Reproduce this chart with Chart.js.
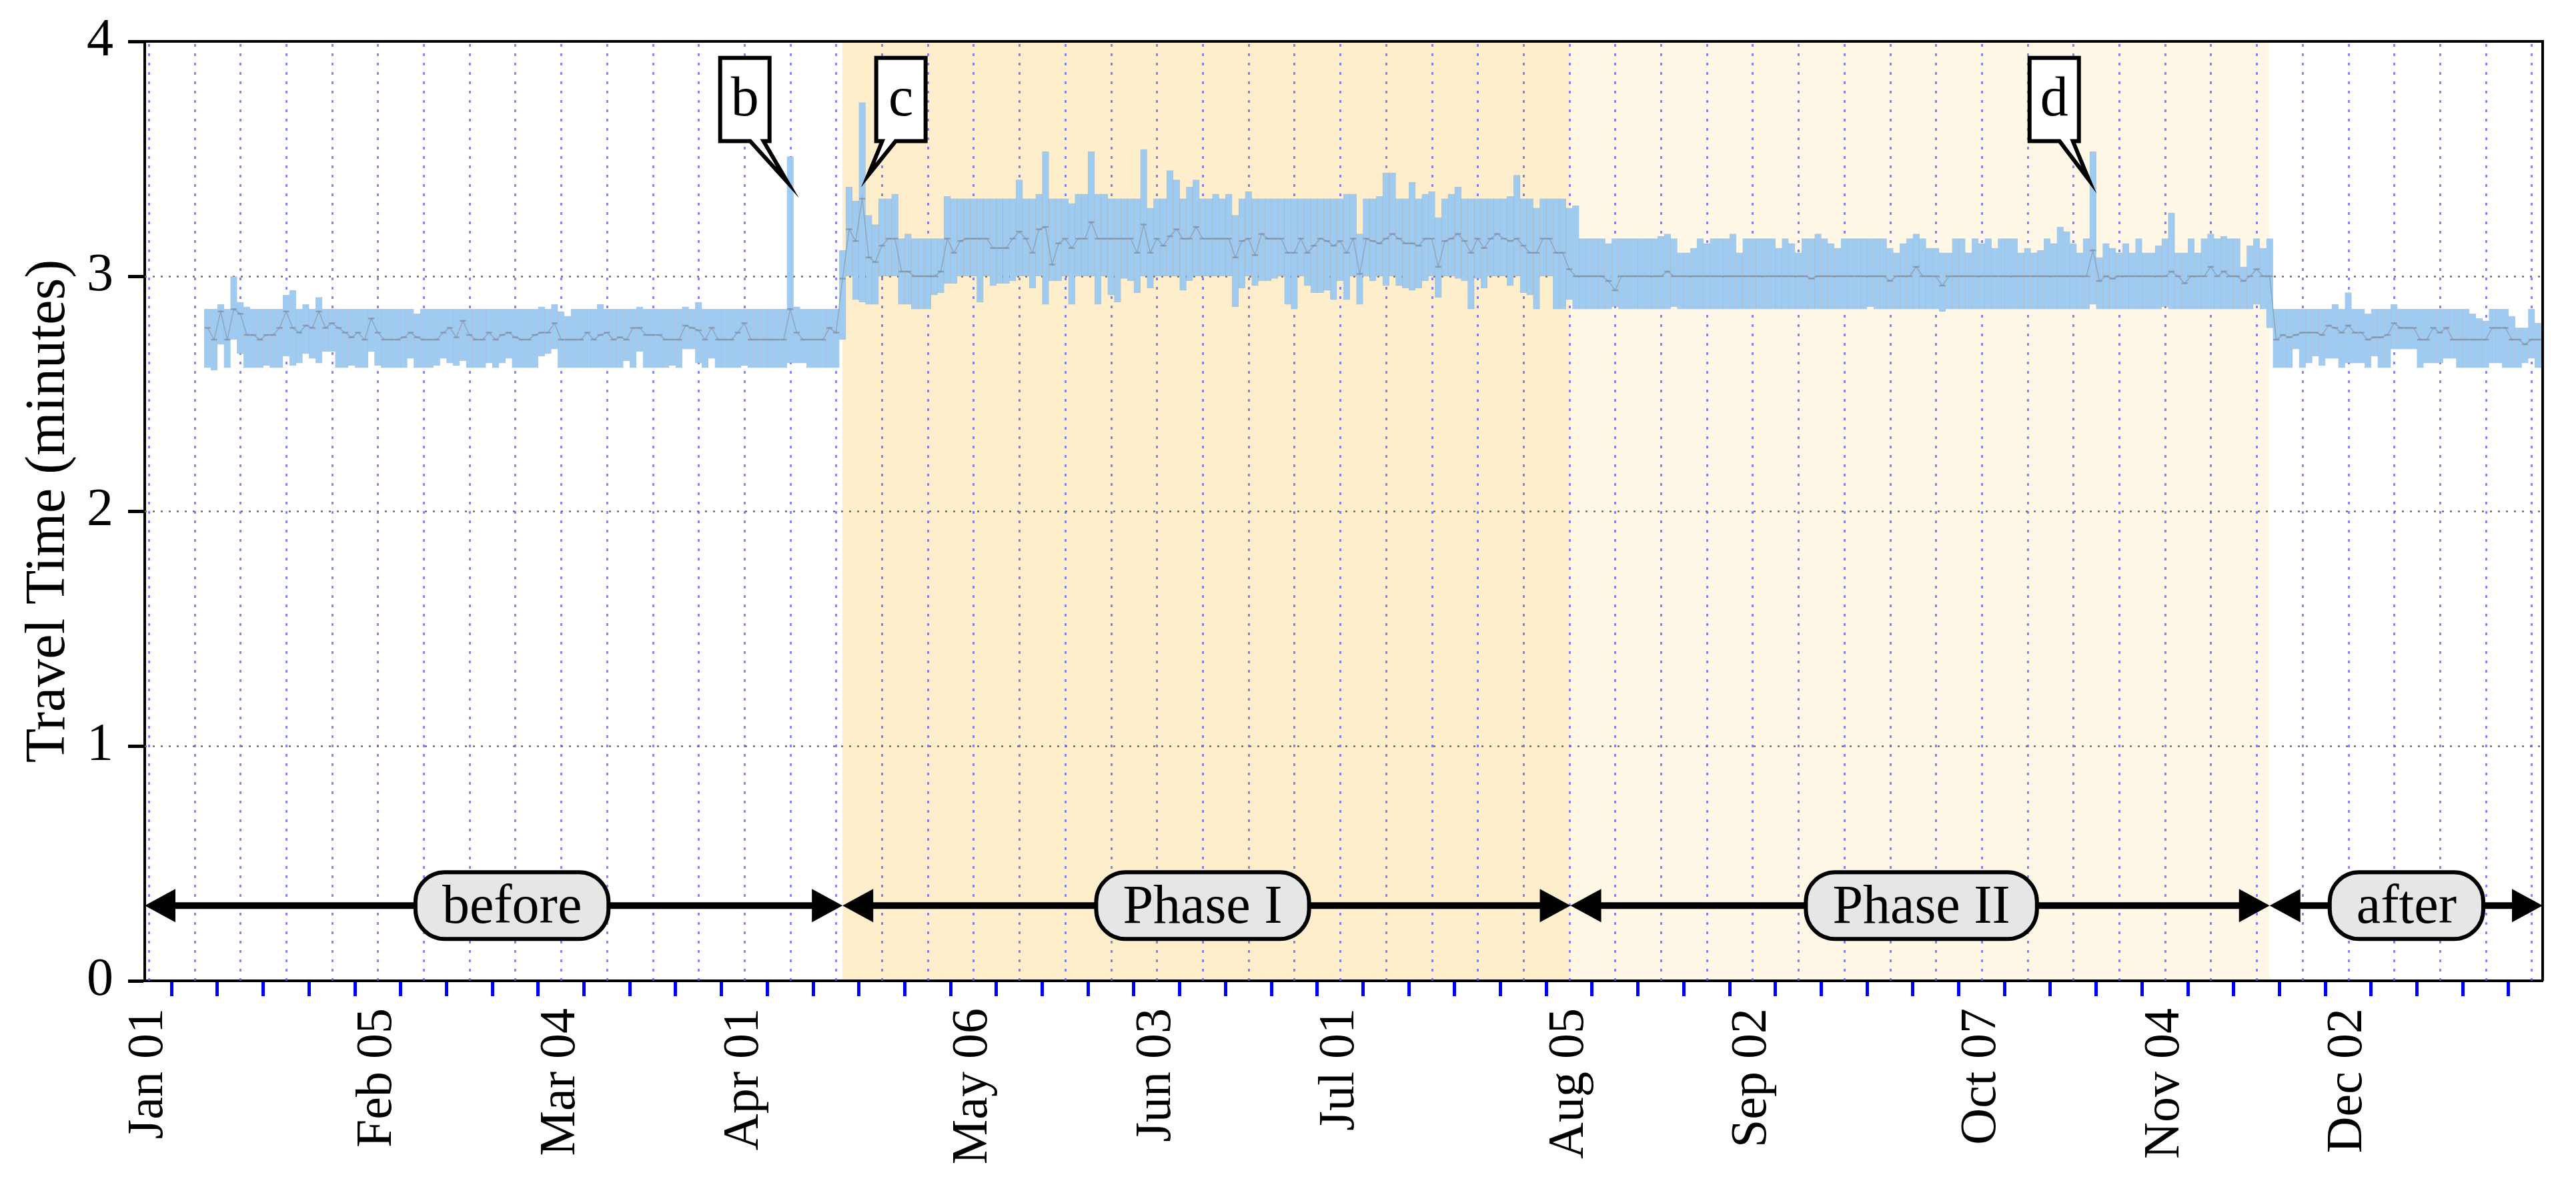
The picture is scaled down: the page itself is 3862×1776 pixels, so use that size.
<!DOCTYPE html>
<html>
<head>
<meta charset="utf-8">
<title>Travel Time</title>
<script src="https://cdn.jsdelivr.net/npm/chart.js@4.4.1/dist/chart.umd.min.js"></script>
<style>
  html, body { margin: 0; padding: 0; background: #fff; }
  #wrap { width: 3862px; height: 1776px; position: relative; }
</style>
</head>
<body>
<div id="wrap"><canvas id="tt"></canvas></div>
<script>
// day numbers count from Jan 01 (= 0), one bar per day
const beforeStart = 9;
const beforeHigh = [
  2.86,2.86,2.88,2.86,3.00,2.89,2.87,2.86,2.86,2.86,
  2.86,2.86,2.92,2.94,2.86,2.88,2.86,2.91,2.86,2.86,
  2.86,2.86,2.86,2.86,2.86,2.86,2.86,2.86,2.86,2.86,
  2.86,2.86,2.84,2.86,2.86,2.86,2.86,2.86,2.86,2.86,
  2.86,2.86,2.86,2.86,2.86,2.86,2.86,2.86,2.86,2.86,
  2.86,2.87,2.86,2.88,2.85,2.83,2.86,2.86,2.86,2.86,
  2.88,2.86,2.86,2.86,2.86,2.86,2.87,2.86,2.86,2.86,
  2.86,2.86,2.86,2.87,2.86,2.89,2.86,2.86,2.86,2.86,
  2.86,2.86,2.86,2.86,2.86,2.86,2.86,2.86,2.86,3.51,
  2.87,2.86,2.86,2.86,2.86,2.86,2.86
];
const beforeMedian = [
  2.78,2.73,2.85,2.73,2.86,2.84,2.75,2.75,2.73,2.75,
  2.75,2.78,2.85,2.78,2.76,2.79,2.78,2.85,2.78,2.80,
  2.78,2.76,2.74,2.76,2.73,2.82,2.76,2.73,2.73,2.73,
  2.74,2.76,2.74,2.73,2.73,2.73,2.76,2.78,2.74,2.81,
  2.75,2.73,2.73,2.76,2.73,2.75,2.76,2.74,2.73,2.73,
  2.75,2.76,2.76,2.80,2.73,2.73,2.73,2.73,2.76,2.73,
  2.75,2.76,2.73,2.74,2.73,2.78,2.78,2.75,2.75,2.75,
  2.73,2.73,2.73,2.79,2.78,2.77,2.73,2.78,2.73,2.73,
  2.73,2.76,2.80,2.73,2.73,2.73,2.73,2.73,2.73,2.86,
  2.76,2.73,2.73,2.73,2.73,2.78,2.76
];
const beforeLow = [
  2.61,2.60,2.71,2.61,2.73,2.67,2.61,2.61,2.61,2.62,
  2.61,2.61,2.66,2.62,2.63,2.67,2.65,2.63,2.68,2.68,
  2.61,2.61,2.62,2.61,2.61,2.68,2.62,2.61,2.61,2.61,
  2.61,2.65,2.61,2.61,2.61,2.62,2.65,2.63,2.62,2.64,
  2.61,2.61,2.61,2.63,2.61,2.63,2.65,2.61,2.61,2.61,
  2.61,2.66,2.67,2.69,2.61,2.61,2.61,2.61,2.61,2.61,
  2.61,2.61,2.61,2.61,2.64,2.61,2.68,2.61,2.61,2.61,
  2.61,2.62,2.61,2.69,2.69,2.63,2.61,2.65,2.61,2.61,
  2.61,2.61,2.62,2.61,2.61,2.61,2.61,2.61,2.61,2.63,
  2.63,2.63,2.61,2.61,2.61,2.61,2.61
];

const phase1Start = 106;
const phase1High = [
  3.11,3.38,3.32,3.74,3.26,3.22,3.33,3.33,3.35,3.16,
  3.18,3.16,3.16,3.16,3.16,3.16,3.34,3.33,3.33,3.33,
  3.33,3.33,3.33,3.33,3.33,3.33,3.33,3.41,3.33,3.33,
  3.35,3.53,3.33,3.33,3.33,3.31,3.35,3.35,3.53,3.35,
  3.35,3.33,3.33,3.33,3.33,3.33,3.54,3.29,3.33,3.33,
  3.45,3.41,3.33,3.38,3.41,3.33,3.33,3.35,3.33,3.35,
  3.26,3.33,3.36,3.33,3.33,3.33,3.33,3.33,3.33,3.33,
  3.33,3.33,3.33,3.33,3.33,3.33,3.33,3.35,3.35,3.18,
  3.33,3.33,3.34,3.44,3.44,3.33,3.33,3.40,3.33,3.35,
  3.36,3.25,3.33,3.35,3.38,3.33,3.33,3.33,3.33,3.33,
  3.33,3.33,3.34,3.43,3.33,3.33,3.29,3.33,3.33,3.33,
  3.33,3.29,3.30
];
const phase1Median = [
  2.99,3.20,3.15,3.33,3.08,3.06,3.13,3.16,3.16,3.02,
  3.02,3.00,3.00,3.00,3.00,3.02,3.16,3.10,3.15,3.16,
  3.16,3.16,3.16,3.12,3.12,3.12,3.16,3.19,3.16,3.10,
  3.20,3.21,3.05,3.14,3.16,3.12,3.16,3.16,3.23,3.16,
  3.16,3.16,3.16,3.16,3.16,3.10,3.22,3.10,3.16,3.13,
  3.17,3.20,3.16,3.16,3.21,3.16,3.16,3.16,3.16,3.16,
  3.08,3.15,3.16,3.09,3.18,3.16,3.16,3.16,3.10,3.10,
  3.16,3.10,3.13,3.16,3.15,3.13,3.15,3.10,3.16,3.01,
  3.16,3.15,3.14,3.16,3.18,3.16,3.14,3.14,3.13,3.16,
  3.16,3.04,3.15,3.16,3.18,3.15,3.10,3.16,3.12,3.16,
  3.18,3.16,3.15,3.16,3.13,3.10,3.10,3.16,3.16,3.10,
  3.10,3.03,3.00
];
const phase1Low = [
  2.73,3.00,2.90,2.89,2.88,2.88,3.00,3.00,3.00,2.88,
  2.88,2.86,2.86,2.86,2.92,2.93,2.97,2.97,3.00,3.00,
  3.00,2.89,3.00,2.96,2.97,2.97,2.98,3.00,3.00,2.95,
  3.00,2.88,2.98,2.98,3.00,2.88,3.00,3.00,3.00,2.88,
  3.00,2.92,2.89,2.99,2.98,2.93,3.00,2.95,3.00,3.00,
  3.00,3.00,2.94,2.98,3.00,3.00,3.00,3.00,3.00,3.00,
  2.87,2.95,3.00,2.96,2.98,2.98,2.99,3.00,2.88,2.86,
  3.00,2.96,2.93,2.93,2.94,2.90,2.98,2.90,3.00,2.88,
  3.00,2.98,3.00,2.96,3.00,2.96,2.95,2.94,2.95,2.98,
  3.00,2.91,3.00,3.00,2.99,2.98,2.86,2.99,2.95,3.00,
  3.00,3.00,2.96,3.00,2.93,2.92,2.86,3.00,3.00,2.86,
  2.86,2.90,2.86
];

const phase2Start = 219;
const phase2High = [
  3.16,3.16,3.16,3.16,3.14,3.16,3.16,3.16,3.16,3.16,
  3.16,3.16,3.17,3.18,3.16,3.10,3.10,3.12,3.16,3.14,
  3.16,3.16,3.16,3.18,3.10,3.16,3.16,3.16,3.16,3.16,
  3.12,3.16,3.14,3.10,3.16,3.16,3.18,3.16,3.14,3.12,
  3.16,3.16,3.16,3.16,3.16,3.16,3.16,3.12,3.10,3.14,
  3.16,3.18,3.16,3.12,3.12,3.10,3.10,3.16,3.16,3.10,
  3.16,3.14,3.16,3.12,3.16,3.16,3.16,3.10,3.12,3.10,
  3.11,3.16,3.14,3.21,3.19,3.14,3.10,3.16,3.53,3.08,
  3.14,3.12,3.10,3.14,3.10,3.16,3.10,3.10,3.13,3.16,
  3.27,3.10,3.10,3.16,3.10,3.16,3.18,3.16,3.17,3.16,
  3.16,3.04,3.13,3.16,3.12,3.16
];
const phase2Median = [
  3.00,3.00,3.00,3.00,2.98,2.94,3.00,3.00,3.00,3.00,
  3.00,3.00,3.00,3.02,3.00,3.00,3.00,3.00,3.00,3.00,
  3.00,3.00,3.00,3.00,3.00,3.00,3.00,3.00,3.00,3.00,
  3.00,3.00,3.00,3.00,3.00,2.99,3.00,3.00,3.00,3.00,
  3.00,3.00,3.00,3.00,3.00,3.00,3.00,2.98,3.00,3.00,
  3.00,3.04,3.00,3.00,3.00,2.96,3.00,3.00,3.00,3.00,
  3.00,3.00,3.00,3.00,3.00,3.00,3.00,3.00,3.00,3.00,
  3.00,3.00,3.00,3.00,3.00,3.00,3.00,3.00,3.11,2.98,
  3.00,2.99,3.00,3.00,3.00,3.00,3.00,3.00,3.00,3.00,
  3.02,3.00,2.97,3.00,3.00,3.00,3.04,3.00,3.02,3.00,
  3.00,2.98,3.00,3.03,3.00,3.00
];
const phase2Low = [
  2.86,2.86,2.86,2.86,2.86,2.87,2.86,2.86,2.86,2.86,
  2.86,2.86,2.86,2.86,2.87,2.86,2.86,2.86,2.86,2.86,
  2.86,2.86,2.86,2.86,2.86,2.86,2.86,2.86,2.86,2.86,
  2.86,2.86,2.86,2.86,2.86,2.86,2.86,2.86,2.86,2.86,
  2.86,2.86,2.86,2.86,2.87,2.86,2.86,2.86,2.86,2.86,
  2.86,2.86,2.86,2.86,2.86,2.85,2.86,2.86,2.86,2.86,
  2.86,2.86,2.86,2.86,2.86,2.86,2.86,2.86,2.86,2.86,
  2.86,2.86,2.86,2.86,2.86,2.86,2.86,2.86,2.88,2.86,
  2.86,2.86,2.86,2.86,2.86,2.86,2.86,2.86,2.86,2.87,
  2.86,2.86,2.86,2.86,2.86,2.86,2.86,2.86,2.86,2.86,
  2.86,2.86,2.86,2.88,2.86,2.78
];

const afterStart = 325;
const afterHigh = [
  2.86,2.86,2.86,2.86,2.86,2.86,2.86,2.86,2.86,2.88,
  2.86,2.93,2.86,2.86,2.84,2.86,2.86,2.86,2.88,2.86,
  2.86,2.86,2.86,2.86,2.86,2.86,2.86,2.86,2.86,2.86,
  2.84,2.82,2.81,2.86,2.86,2.86,2.83,2.78,2.78,2.86,
  2.80
];
const afterMedian = [
  2.73,2.75,2.74,2.75,2.76,2.76,2.76,2.75,2.79,2.78,
  2.76,2.79,2.76,2.76,2.73,2.74,2.74,2.75,2.80,2.78,
  2.78,2.78,2.73,2.73,2.78,2.76,2.78,2.73,2.73,2.73,
  2.73,2.73,2.73,2.78,2.78,2.78,2.73,2.73,2.71,2.73,
  2.73
];
const afterLow = [
  2.61,2.61,2.61,2.69,2.61,2.63,2.66,2.62,2.65,2.65,
  2.61,2.63,2.63,2.63,2.61,2.66,2.61,2.61,2.69,2.69,
  2.69,2.69,2.61,2.63,2.63,2.63,2.65,2.65,2.61,2.61,
  2.61,2.61,2.61,2.63,2.63,2.61,2.61,2.61,2.63,2.65,
  2.61
];

// axis labels (first Monday of each month) and phase layout
const monthTickDays = [0, 35, 63, 91, 126, 154, 182, 217, 245, 280, 308, 336];
const monthTickLabels = ['Jan 01','Feb 05','Mar 04','Apr 01','May 06','Jun 03','Jul 01','Aug 05','Sep 02','Oct 07','Nov 04','Dec 02'];
const phaseNames = ['before', 'Phase I', 'Phase II', 'after'];
const phaseBounds = [106, 217.2, 324];
const phaseLabelDays = [55.5, 161, 270.8, 344.9];
const phaseColors = [null, '#feeecc', '#fff8e7', null];
const callouts = [
  { text: 'b', day: 98, tip: 3.40, tipDx: -4, boxDx: -68 },
  { text: 'c', day: 109, tip: 3.43, tipDx: 9, boxDx: 58 },
  { text: 'd', day: 297, tip: 3.41, tipDx: -6, boxDx: -58 }
];

const X_MIN = -0.6, X_MAX = 365.7;
const SERIF = '"Liberation Serif", "Times New Roman", serif';

const segments = [
  [beforeStart, beforeLow, beforeHigh, beforeMedian],
  [phase1Start, phase1Low, phase1High, phase1Median],
  [phase2Start, phase2Low, phase2High, phase2Median],
  [afterStart, afterLow, afterHigh, afterMedian]
];
const rangeData = [];
const medianData = [];
segments.forEach(([start, lo, hi, med]) => {
  lo.forEach((v, i) => {
    rangeData.push({ x: start + i, y: [v, hi[i]] });
    medianData.push({ x: start + i, y: med[i] });
  });
});

const weekTicks = [];
for (let d = 0; d <= 364; d += 7) weekTicks.push(d);

function roundBox(ctx, x, y, w, h, r) {
  ctx.beginPath();
  ctx.moveTo(x + r, y);
  ctx.lineTo(x + w - r, y);
  ctx.arcTo(x + w, y, x + w, y + r, r);
  ctx.lineTo(x + w, y + h - r);
  ctx.arcTo(x + w, y + h, x + w - r, y + h, r);
  ctx.lineTo(x + r, y + h);
  ctx.arcTo(x, y + h, x, y + h - r, r);
  ctx.lineTo(x, y + r);
  ctx.arcTo(x, y, x + r, y, r);
  ctx.closePath();
}

function arrowHead(ctx, tipX, y, dir) {
  ctx.beginPath();
  ctx.moveTo(tipX, y);
  ctx.lineTo(tipX + dir * 46, y - 25);
  ctx.lineTo(tipX + dir * 46, y + 25);
  ctx.closePath();
  ctx.fill();
}

const decor = {
  id: 'decor',
  beforeDraw(chart) {
    const { ctx, chartArea: a, scales: { x } } = chart;
    ctx.save();
    ctx.fillStyle = '#fff';
    ctx.fillRect(0, 0, chart.width, chart.height);
    const edges = [X_MIN].concat(phaseBounds, [X_MAX]);
    phaseColors.forEach((c, i) => {
      if (!c) return;
      const x0 = x.getPixelForValue(edges[i]);
      const x1 = x.getPixelForValue(edges[i + 1]);
      ctx.fillStyle = c;
      ctx.fillRect(x0, a.top, x1 - x0, a.bottom - a.top);
    });
    ctx.restore();
  },
  beforeDatasetsDraw(chart) {
    const { ctx, chartArea: a, scales: { x, y } } = chart;
    ctx.save();
    ctx.lineWidth = 3;
    ctx.setLineDash([4, 10]);
    ctx.strokeStyle = 'rgba(80,80,255,0.7)';
    x.ticks.forEach(t => {
      const px = Math.round(x.getPixelForValue(t.value)) + 0.5;
      ctx.beginPath();
      ctx.moveTo(px, a.bottom);
      ctx.lineTo(px, a.top);
      ctx.stroke();
    });
    ctx.lineWidth = 2.5;
    ctx.setLineDash([3, 9]);
    ctx.strokeStyle = '#6e6e6e';
    y.ticks.forEach(t => {
      if (t.value <= 0 || t.value >= 4) return;
      const py = Math.round(y.getPixelForValue(t.value)) + 0.5;
      ctx.beginPath();
      ctx.moveTo(a.left, py);
      ctx.lineTo(a.right, py);
      ctx.stroke();
    });
    ctx.restore();
  },
  afterDatasetsDraw(chart) {
    const { ctx, chartArea: a, scales: { x, y } } = chart;
    ctx.save();
    // top and right frame
    ctx.strokeStyle = '#000';
    ctx.lineWidth = 4;
    ctx.beginPath();
    ctx.moveTo(a.left, a.top);
    ctx.lineTo(a.right, a.top);
    ctx.lineTo(a.right, a.bottom);
    ctx.stroke();

    // phase arrows with labels
    const ay = y.getPixelForValue(0.32);
    const edges = [X_MIN].concat(phaseBounds, [X_MAX]);
    ctx.fillStyle = '#000';
    ctx.lineWidth = 10;
    phaseNames.forEach((name, i) => {
      const x0 = x.getPixelForValue(edges[i]);
      const x1 = x.getPixelForValue(edges[i + 1]);
      ctx.beginPath();
      ctx.moveTo(x0 + 30, ay);
      ctx.lineTo(x1 - 30, ay);
      ctx.stroke();
      arrowHead(ctx, x0, ay, 1);
      arrowHead(ctx, x1, ay, -1);
    });
    ctx.font = '82px ' + SERIF;
    ctx.textAlign = 'center';
    ctx.textBaseline = 'middle';
    phaseNames.forEach((name, i) => {
      const cx = x.getPixelForValue(phaseLabelDays[i]);
      const w = ctx.measureText(name).width + 80;
      const h = 100;
      roundBox(ctx, cx - w / 2, ay - h / 2, w, h, 44);
      ctx.fillStyle = '#e6e6e6';
      ctx.fill();
      ctx.lineWidth = 6;
      ctx.strokeStyle = '#000';
      ctx.stroke();
      ctx.fillStyle = '#000';
      ctx.fillText(name, cx, ay + 4);
    });

    // callouts
    const boxTop = y.getPixelForValue(3.93);
    const boxBottom = y.getPixelForValue(3.575);
    callouts.forEach(c => {
      const sx = x.getPixelForValue(c.day);
      const tx = sx + c.tipDx;
      const ty = y.getPixelForValue(c.tip);
      const cx = sx + c.boxDx;
      const w = 74;
      const left = cx - w / 2, right = cx + w / 2;
      const s = tx > cx ? 1 : -1;
      const b1 = cx + s * 8, b2 = cx + s * 28;
      const bl = Math.min(b1, b2), br = Math.max(b1, b2);
      ctx.beginPath();
      ctx.moveTo(left, boxTop);
      ctx.lineTo(right, boxTop);
      ctx.lineTo(right, boxBottom);
      ctx.lineTo(br, boxBottom);
      ctx.lineTo(tx, ty);
      ctx.lineTo(bl, boxBottom);
      ctx.lineTo(left, boxBottom);
      ctx.closePath();
      ctx.fillStyle = '#fff';
      ctx.fill();
      ctx.lineWidth = 6;
      ctx.lineJoin = 'miter';
      ctx.strokeStyle = '#000';
      ctx.stroke();
      ctx.fillStyle = '#000';
      ctx.font = '84px ' + SERIF;
      ctx.fillText(c.text, cx, (boxTop + boxBottom) / 2 + 2);
    });
    ctx.restore();
  }
};

const ctx = document.getElementById('tt').getContext('2d');
const chart = new Chart(ctx, {
  type: 'bar',
  data: {
    datasets: [
      {
        type: 'line',
        label: 'Median',
        data: medianData,
        borderColor: 'rgba(128,142,162,0.6)',
        borderWidth: 1.5,
        pointStyle: 'line',
        pointRadius: 4.5,
        pointBorderWidth: 2.5,
        pointBorderColor: 'rgba(128,142,162,0.75)',
        tension: 0,
        order: 0
      },
      {
        label: 'Travel time range',
        data: rangeData,
        backgroundColor: '#9ecbf2',
        borderColor: 'rgba(120,158,200,0.55)',
        borderWidth: 1,
        borderSkipped: false,
        barPercentage: 1,
        categoryPercentage: 1,
        order: 1
      }
    ]
  },
  options: {
    responsive: true,
    maintainAspectRatio: false,
    animation: false,
    devicePixelRatio: 1,
    layout: { padding: { top: 62, right: 50, left: 0, bottom: 0 } },
    scales: {
      x: {
        type: 'linear',
        min: X_MIN,
        max: X_MAX,
        offset: false,
        afterBuildTicks: s => { s.ticks = weekTicks.map(v => ({ value: v })); },
        afterFit: s => { s.height = 306; s.paddingLeft = 0; s.paddingRight = 0; },
        grid: {
          drawOnChartArea: false,
          drawTicks: true,
          tickLength: 23,
          tickWidth: 5,
          tickColor: '#0000ff',
          color: '#0000ff'
        },
        border: { display: true, color: '#000', width: 4 },
        ticks: {
          autoSkip: false,
          minRotation: 90,
          maxRotation: 90,
          padding: 18,
          color: '#000',
          font: { size: 76, family: SERIF },
          callback: v => {
            const i = monthTickDays.indexOf(v);
            return i >= 0 ? monthTickLabels[i] : '';
          }
        }
      },
      y: {
        min: 0,
        max: 4,
        afterFit: s => { s.width = 217; s.paddingTop = 0; s.paddingBottom = 0; },
        grid: {
          drawOnChartArea: false,
          drawTicks: true,
          tickLength: 25,
          tickWidth: 5,
          tickColor: '#000'
        },
        border: { display: true, color: '#000', width: 4 },
        ticks: {
          stepSize: 1,
          padding: 22,
          color: '#000',
          font: { size: 80, family: SERIF }
        },
        title: {
          display: true,
          text: 'Travel Time (minutes)',
          color: '#000',
          font: { size: 84, family: SERIF },
          padding: { top: 24, bottom: 0 }
        }
      }
    },
    plugins: {
      legend: { display: false },
      tooltip: { enabled: false }
    }
  },
  plugins: [decor]
});
</script>
</body>
</html>
